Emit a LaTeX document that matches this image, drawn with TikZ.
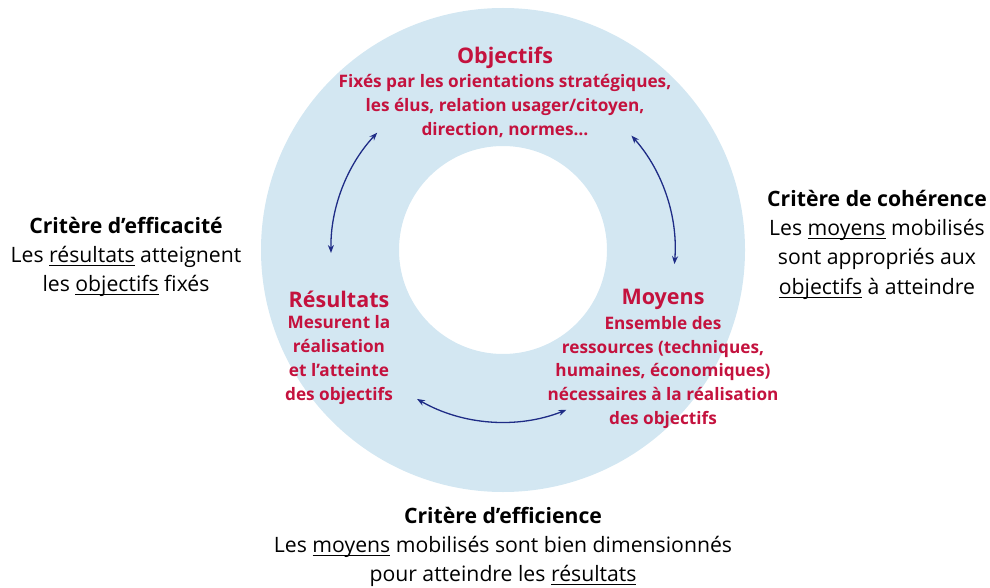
\documentclass[tikz,border=0pt]{standalone}
\usepackage{fontspec}
\setmainfont{Open Sans}
\usetikzlibrary{positioning, arrows.meta}
\definecolor{anneau}{HTML}{D3E7F2}
\definecolor{rouge}{HTML}{C4123E}
\definecolor{marine}{HTML}{1E2C86}
\newcommand{\souligne}[1]{\underline{\smash{#1}\rule[-1.5pt]{0pt}{0pt}}}

\begin{document}
\begin{tikzpicture}[x=1pt, y=1pt, >={Stealth[length=8pt, width=6pt]}]
\tikzstyle{titre} = [text=rouge, font=\bfseries\fontsize{21.5}{24}\selectfont, inner sep=0pt]
\tikzstyle{pole} = [text=rouge, font=\bfseries\fontsize{17.2}{23.7}\selectfont, align=center, inner sep=0pt]
\tikzstyle{critere} = [text=black, font=\fontsize{21.2}{29.2}\selectfont, align=center, inner sep=0pt]
\tikzstyle{fleche} = [<->, draw=marine, line width=1.3pt]

\useasboundingbox (0,0) rectangle (990,-588);

% anneau
\coordinate (centre) at (503,-250);
\fill[anneau, even odd rule] (centre) circle[radius=242] (centre) circle[radius=104];

% les trois poles
\node[titre] (objectifs) at (505,-58) {Objectifs};
\node[pole] (objtexte) at (505,-106) {Fixés par les orientations stratégiques,\\les élus, relation usager/citoyen,\\direction, normes…};

\node[titre] (resultats) at (339,-299) {Résultats};
\node[pole] (restexte) at (339,-360) {Mesurent la\\réalisation\\et l’atteinte\\des objectifs};

\node[titre] (moyens) at (663,-299) {Moyens};
\node[pole] (moytexte) at (663,-372.5) {Ensemble des\\ressources (techniques,\\humaines, économiques)\\nécessaires à la réalisation\\des objectifs};

% les criteres
\node[critere] (efficacite) at (126,-256) {\textbf{Critère d’efficacité}\\Les \souligne{résultats} atteignent\\les \souligne{objectifs} fixés};
\node[critere] (coherence) at (877,-244) {\textbf{Critère de cohérence}\\Les \souligne{moyens} mobilisés\\sont appropriés aux\\\souligne{objectifs} à atteindre};
\node[critere] (efficience) at (503,-547) {\textbf{Critère d’efficience}\\Les \souligne{moyens} mobilisés sont bien dimensionnés\\pour atteindre les \souligne{résultats}};

% fleches
\coordinate (gauche) at ([shift={(181:172)}]centre);
\coordinate (droite) at ([shift={(-4.7:172)}]centre);
\coordinate (bas) at ([shift={(240:172)}]centre);
\draw[fleche] (gauche) arc[start angle=181, end angle=137, radius=172];
\draw[fleche] (droite) arc[start angle=-4.7, end angle=41.7, radius=172];
\draw[fleche] (bas) arc[start angle=240, end angle=291.6, radius=172];
\end{tikzpicture}
\end{document}
